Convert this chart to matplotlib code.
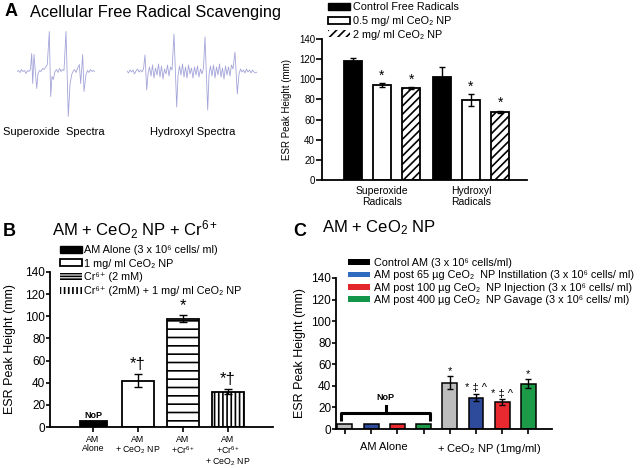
import numpy as np
import matplotlib.pyplot as plt
from matplotlib.patches import Patch

plt.rcParams['font.family'] = ['Liberation Sans', 'DejaVu Sans']
plt.rcParams['mathtext.fontset'] = 'custom'
plt.rcParams['mathtext.rm'] = 'Liberation Sans'
plt.rcParams['mathtext.it'] = 'Liberation Sans:italic'
plt.rcParams['mathtext.bf'] = 'Liberation Sans:bold'
plt.rcParams['hatch.linewidth'] = 1.2

# ESR traces: (field offset, signal height above baseline)
superoxide_trace = [(0, 0), (1.5, 1), (3, -1), (4.5, 2), (6, 0), (7.5, 1), (9, -2), (10.5, 1),
                    (12, 0), (13.5, 2), (14.7, 18), (15.7, -12), (17, 17), (19.7, -17), (21, -2),
                    (22.5, 1), (24, 0), (25.5, 3), (27, 2), (28.5, 4), (30.3, 7), (32.3, 40),
                    (33.7, -25), (35, -5), (36.3, -8), (38, 0), (39.5, 2), (41, -1), (42.5, 3),
                    (44, 0), (45.5, 2), (47, 1), (49, 40), (51.3, -45), (53, -13), (54.7, -3),
                    (56, 0), (57.5, 2), (59, -1), (60.5, 3), (62.3, 7), (63.7, -12), (65.7, 17),
                    (67, -20), (69, -3), (70.5, 1), (72, -1), (73.5, 2), (75, 0), (76.5, 1), (78, 0)]
hydroxyl_trace = [(0, 1), (1.5, -1), (3, 2), (4.5, 0), (6, 2), (7.5, -2), (9, 1), (10.5, 3),
                  (12, 0), (13.5, 2), (15, 0), (16.5, 3), (18, 17), (19.7, -18), (21, -2),
                  (22.5, 5), (24, -4), (25.5, 7), (27, -6), (28.5, 4), (30, -3), (31.5, 8),
                  (33, -5), (34.5, 6), (36, -7), (37.5, 3), (39, -2), (40.5, 7), (42, -4),
                  (43.5, 5), (45, 2), (47, 38), (49.7, -35), (51, -4), (52.5, 6), (54, -3),
                  (55.5, 8), (57, -5), (58.5, 5), (60, -6), (61.5, 7), (63, -2), (64.5, 4),
                  (66, -6), (67.5, 5), (69, -3), (70.5, 6), (72, -5), (73.5, 3), (75, -2),
                  (76.5, 4), (78, 35), (80.7, -38), (82, -3), (83.5, 6), (85, -4), (86.5, 7),
                  (88, -6), (89.5, 5), (91, -3), (92.5, 8), (94, -5), (95.5, 4), (97, -7),
                  (98.5, 6), (100, -3), (101.5, 5), (103, -4), (104.5, 7), (106, 3), (108, 20),
                  (110.3, -22), (112, -2), (113.5, 3), (115, 0), (116.5, 2), (118, -1),
                  (119.5, 3), (121, 0), (122.5, 2), (124, -1), (125.5, 2), (127, 0),
                  (128.5, -1), (130, 0)]

# panel A bars
a_groups = ['Superoxide\nRadicals', 'Hydroxyl\nRadicals']
a_control = [118, 102]
a_control_err = [3, 10]
a_np05 = [94, 79]
a_np05_err = [2, 6]
a_np2 = [91, 68]
a_np2_err = [1, 1]
a_labels = ['Control Free Radicals', '0.5 mg/ ml CeO\u2082 NP', '2 mg/ ml CeO\u2082 NP']

# panel B
b_ticks = ['AM\nAlone', 'AM\n+ CeO$_2$ NP', 'AM\n+Cr$^{6+}$', 'AM\n+Cr$^{6+}$\n+ CeO$_2$ NP']
b_vals = [5, 42, 98, 32]
b_err = [0, 6, 3, 2]
b_marks = ['', '*\u2020', '*', '*\u2020']
b_labels = ['AM Alone (3 x 10\u2076 cells/ ml)', '1 mg/ ml CeO\u2082 NP', 'Cr\u2076\u207a (2 mM)',
            'Cr\u2076\u207a (2mM) + 1 mg/ ml CeO\u2082 NP']

# panel C
c_groups = ['AM Alone', '+ CeO$_2$ NP (1mg/ml)']
c_alone = [5, 5, 5, 5]
c_ceo2 = [43, 29, 25, 42]
c_ceo2_err = [6, 3.5, 2.5, 4]
c_marks = ['*', '* \u2021 ^', '* \u2021 ^', '*']
c_labels = ['Control AM (3 x 10\u2076 cells/ml)',
            'AM post 65 \u00b5g CeO\u2082  NP Instillation (3 x 10\u2076 cells/ ml)',
            'AM post 100 \u00b5g CeO\u2082  NP Injection (3 x 10\u2076 cells/ ml)',
            'AM post 400 \u00b5g CeO\u2082  NP Gavage (3 x 10\u2076 cells/ ml)']

W, H = 640, 468
fig = plt.figure(figsize=(W / 100, H / 100), dpi=100)


def px_axes(x0, y0, x1, y1):
    return fig.add_axes([x0 / W, 1 - y1 / H, (x1 - x0) / W, (y1 - y0) / H])


def prism(ax):
    for s in ['top', 'right']:
        ax.spines[s].set_visible(False)
    for s in ['left', 'bottom']:
        ax.spines[s].set_linewidth(1.3)
    ax.tick_params(direction='out', width=1.2)


# ---- panel A ----
fig.text(5 / W, 1 - 12 / H, 'A', fontsize=13, weight='bold', va='center')
fig.text(30 / W, 1 - 12 / H, 'Acellular Free Radical Scavenging', fontsize=11.8, va='center')

ax_so = px_axes(17, 30.5, 95, 117.5)
sx, sy = zip(*superoxide_trace)
ax_so.plot(sx, sy, color='#a4a4da', lw=0.6)
ax_so.set_xlim(0, 78)
ax_so.set_ylim(-46, 41)
ax_so.axis('off')
fig.text(54 / W, 1 - 132 / H, 'Superoxide  Spectra', fontsize=8, ha='center', va='center')

ax_oh = px_axes(127, 33, 257, 111)
hx, hy = zip(*hydroxyl_trace)
ax_oh.plot(hx, hy, color='#a4a4da', lw=0.6)
ax_oh.set_xlim(0, 130)
ax_oh.set_ylim(-39, 39)
ax_oh.axis('off')
fig.text(193 / W, 1 - 132 / H, 'Hydroxyl Spectra', fontsize=8, ha='center', va='center')

ax_a = px_axes(322, 39, 527, 180)
prism(ax_a)
g = np.arange(len(a_groups))
series = [(a_control, a_control_err, 'black', ''),
          (a_np05, a_np05_err, 'white', ''),
          (a_np2, a_np2_err, 'white', '////')]
for i, (vals, errs, fc, hatch) in enumerate(series):
    x = g + (i - 1) * 0.33
    ax_a.bar(x, vals, 0.2, color=fc, edgecolor='black', linewidth=1.3, hatch=hatch)
    ax_a.errorbar(x, vals, errs, fmt='none', ecolor='black', elinewidth=1, capsize=2.5, capthick=1)
    if i > 0:
        for xi, v, e in zip(x, vals, errs):
            ax_a.text(xi, v + e + 1, '*', ha='center', va='bottom', fontsize=10)
ax_a.set_xlim(-0.674, 1.629)
ax_a.set_ylim(0, 140)
ax_a.set_yticks(range(0, 141, 20))
ax_a.set_xticks(g)
ax_a.set_xticklabels(a_groups, fontsize=7.5)
ax_a.tick_params(axis='x', length=0, pad=4)
ax_a.tick_params(axis='y', labelsize=7, length=4, pad=1)
ax_a.set_ylabel('ESR Peak Height (mm)', fontsize=7)
ax_a.yaxis.set_label_coords(-0.146, 0.5)
a_handles = [Patch(facecolor='black', edgecolor='black'),
             Patch(facecolor='white', edgecolor='black', linewidth=1.3),
             Patch(facecolor='white', edgecolor='black', linewidth=0, hatch='////')]
ax_a.legend(a_handles, a_labels, loc='upper left', bbox_to_anchor=(328 / W, 1 - 2.5 / H),
            bbox_transform=fig.transFigure, frameon=False, fontsize=7.8, handlelength=2.0,
            handleheight=0.65, handletextpad=0.3, labelspacing=0.33, borderpad=0,
            borderaxespad=0)

# ---- panel B ----
fig.text(3 / W, 1 - 231 / H, 'B', fontsize=13, weight='bold', va='center')
fig.text(52 / W, 1 - 230 / H, 'AM + CeO$_2$ NP + Cr$^{6+}$', fontsize=12, va='center')

ax_b = px_axes(50, 272, 273, 427)
prism(ax_b)
xb = np.arange(len(b_vals))
b_faces = ['black', 'white', 'white', 'white']
b_hatches = ['', '', '--', '||||']
b_widths = [0.6, 0.73, 0.73, 0.73]
for xi, v, w, fc, h in zip(xb, b_vals, b_widths, b_faces, b_hatches):
    ax_b.bar(xi, v, w, color=fc, edgecolor='black', linewidth=1.3, hatch=h or None)
ax_b.errorbar(xb[1:], b_vals[1:], b_err[1:], fmt='none', ecolor='black', elinewidth=1,
              capsize=3, capthick=1)
for xi, v, e, m in zip(xb, b_vals, b_err, b_marks):
    if m:
        ax_b.text(xi, v + e + 2, m, ha='center', va='bottom', fontsize=12)
ax_b.text(xb[0], b_vals[0] + 1.5, 'NoP', ha='center', va='bottom', fontsize=6.5, weight='bold')
ax_b.set_xlim(-0.956, 4.0)
ax_b.set_ylim(0, 140)
ax_b.set_yticks(range(0, 141, 20))
ax_b.set_xticks(xb)
ax_b.set_xticklabels(b_ticks, fontsize=6.3, linespacing=1.05)
ax_b.tick_params(axis='x', length=3.5, pad=2)
ax_b.tick_params(axis='y', labelsize=8.5, length=3, pad=0.5)
ax_b.set_ylabel('ESR Peak Height (mm)', fontsize=9)
ax_b.yaxis.set_label_coords(-0.152, 0.5)
b_handles = [Patch(facecolor='black', edgecolor='black'),
             Patch(facecolor='white', edgecolor='black', linewidth=1.3),
             Patch(facecolor='white', edgecolor='black', linewidth=0, hatch='------'),
             Patch(facecolor='white', edgecolor='black', linewidth=0, hatch='||||')]
ax_b.legend(b_handles, b_labels, loc='upper left', bbox_to_anchor=(60 / W, 1 - 245 / H),
            bbox_transform=fig.transFigure, frameon=False, fontsize=7.8, handlelength=2.0,
            handleheight=0.6, handletextpad=0.2, labelspacing=0.34, borderpad=0,
            borderaxespad=0)

# ---- panel C ----
fig.text(293 / W, 1 - 231 / H, 'C', fontsize=13, weight='bold', va='center')
fig.text(322 / W, 1 - 228 / H, 'AM + CeO$_2$ NP', fontsize=12, va='center')

ax_c = px_axes(336, 278, 552, 429)
prism(ax_c)
c_bar_colors = ['#bdbdbd', '#2e4b9b', '#e8292f', '#1c9a48']
c_leg_colors = ['black', '#2f6cc0', '#e3262b', '#14964a']
x_alone = np.arange(4)
x_ceo2 = np.arange(4) + 4
ax_c.bar(x_alone, c_alone, 0.57, color=c_bar_colors, edgecolor='black', linewidth=1.1)
ax_c.bar(x_ceo2, c_ceo2, 0.57, color=c_bar_colors, edgecolor='black', linewidth=1.1)
ax_c.errorbar(x_ceo2, c_ceo2, c_ceo2_err, fmt='none', ecolor='black', elinewidth=1,
              capsize=2.5, capthick=1)
for xi, v, e, m in zip(x_ceo2, c_ceo2, c_ceo2_err, c_marks):
    ax_c.text(xi, v + e + 0.5, m, ha='center', va='bottom', fontsize=8)
# brace over the AM-alone group
ax_c.plot([-0.15, -0.15, 3.25, 3.25], [7, 15, 15, 7], color='black', lw=2.2,
          solid_joinstyle='round', solid_capstyle='butt')
ax_c.plot([1.55, 1.55], [15, 21], color='black', lw=2.2)
ax_c.text(1.55, 25, 'NoP', ha='center', va='bottom', fontsize=6.5, weight='bold')
ax_c.set_xlim(-0.34, 7.9)
ax_c.set_ylim(0, 140)
ax_c.set_yticks(range(0, 141, 20))
ax_c.set_xticks(np.concatenate([x_alone, x_ceo2]))
ax_c.set_xticklabels([])
ax_c.set_xticks([1.5, 5.5], minor=True)
ax_c.set_xticklabels(c_groups, minor=True, fontsize=8)
ax_c.tick_params(axis='x', which='major', length=3.5)
ax_c.tick_params(axis='x', which='minor', length=0, pad=9)
ax_c.tick_params(axis='y', labelsize=8.5, length=3, pad=0.5)
ax_c.set_ylabel('ESR Peak Height (mm)', fontsize=9)
ax_c.yaxis.set_label_coords(-0.139, 0.5)
c_handles = [Patch(facecolor=c, edgecolor='none') for c in c_leg_colors]
ax_c.legend(c_handles, c_labels, loc='upper left', bbox_to_anchor=(348 / W, 1 - 258 / H),
            bbox_transform=fig.transFigure, frameon=False, fontsize=7.8, handlelength=2.0,
            handleheight=0.45, handletextpad=0.4, labelspacing=0.22, borderpad=0,
            borderaxespad=0)

fig.savefig('out.png', dpi=100)
